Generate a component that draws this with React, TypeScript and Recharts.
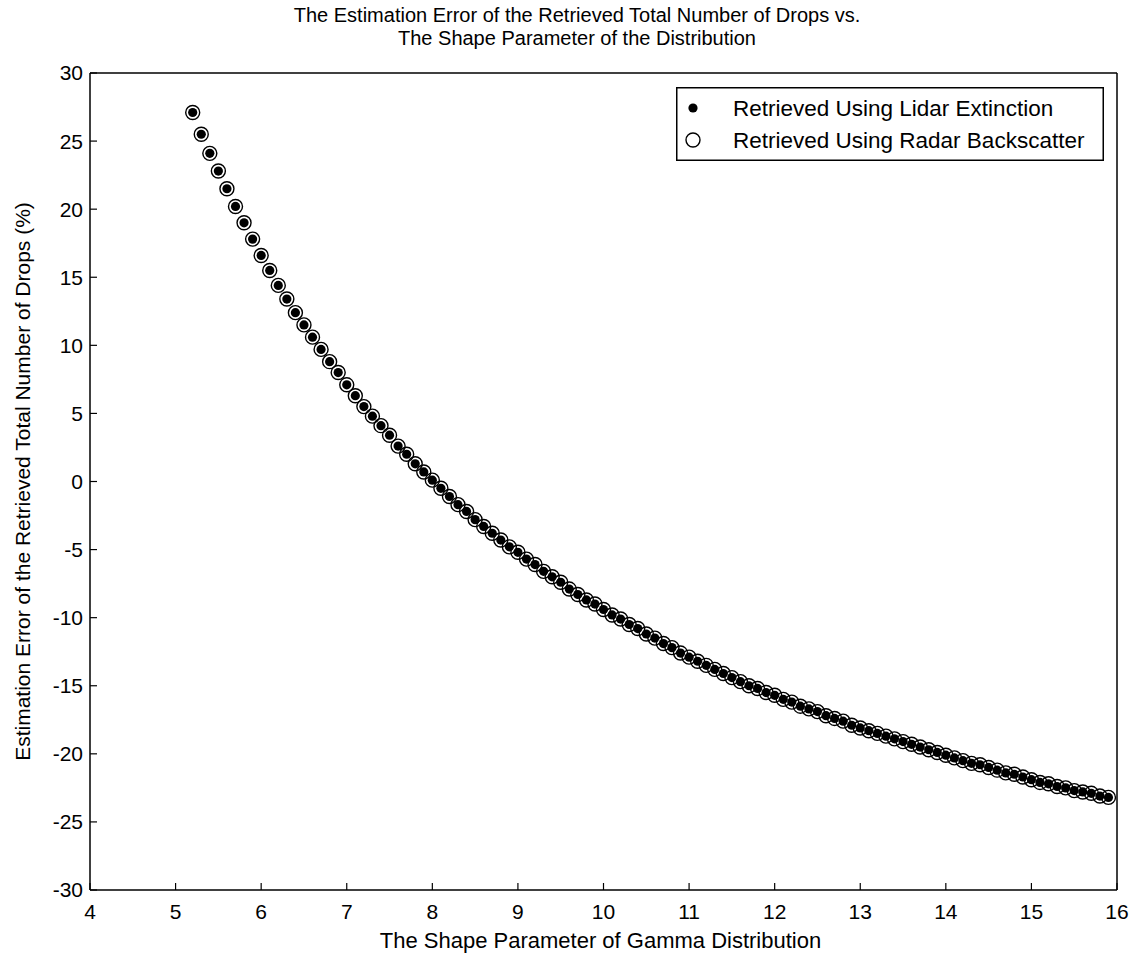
import React from 'react';
import { ScatterChart, Scatter, XAxis, YAxis, Legend } from 'recharts';

const shapeParam = [
  5.2, 5.3, 5.4, 5.5, 5.6, 5.7, 5.8, 5.9, 6.0, 6.1, 6.2, 6.3, 6.4, 6.5, 6.6, 6.7, 6.8, 6.9,
  7.0, 7.1, 7.2, 7.3, 7.4, 7.5, 7.6, 7.7, 7.8, 7.9, 8.0, 8.1, 8.2, 8.3, 8.4, 8.5, 8.6, 8.7,
  8.8, 8.9, 9.0, 9.1, 9.2, 9.3, 9.4, 9.5, 9.6, 9.7, 9.8, 9.9, 10.0, 10.1, 10.2, 10.3, 10.4,
  10.5, 10.6, 10.7, 10.8, 10.9, 11.0, 11.1, 11.2, 11.3, 11.4, 11.5, 11.6, 11.7, 11.8, 11.9,
  12.0, 12.1, 12.2, 12.3, 12.4, 12.5, 12.6, 12.7, 12.8, 12.9, 13.0, 13.1, 13.2, 13.3, 13.4,
  13.5, 13.6, 13.7, 13.8, 13.9, 14.0, 14.1, 14.2, 14.3, 14.4, 14.5, 14.6, 14.7, 14.8, 14.9,
  15.0, 15.1, 15.2, 15.3, 15.4, 15.5, 15.6, 15.7, 15.8, 15.9,
];

const errLidar = [
  27.1, 25.5, 24.1, 22.8, 21.5, 20.2, 19.0, 17.8, 16.6, 15.5, 14.4, 13.4, 12.4, 11.5, 10.6, 9.7, 8.8, 8.0,
  7.1, 6.3, 5.5, 4.8, 4.1, 3.4, 2.6, 2.0, 1.3, 0.7, 0.1, -0.5, -1.1, -1.7, -2.2, -2.8, -3.3, -3.8,
  -4.3, -4.8, -5.2, -5.7, -6.1, -6.6, -7.0, -7.4, -7.9, -8.3, -8.7, -9.0, -9.4, -9.8, -10.1, -10.5, -10.8,
  -11.2, -11.5, -11.9, -12.2, -12.6, -12.9, -13.2, -13.5, -13.8, -14.1, -14.4, -14.7, -15.0, -15.2, -15.5,
  -15.7, -16.0, -16.2, -16.5, -16.7, -16.9, -17.2, -17.4, -17.6, -17.9, -18.1, -18.3, -18.5, -18.7, -18.9,
  -19.1, -19.3, -19.5, -19.7, -19.9, -20.1, -20.3, -20.5, -20.7, -20.8, -21.0, -21.2, -21.4, -21.5, -21.7,
  -21.9, -22.1, -22.2, -22.4, -22.5, -22.7, -22.8, -22.9, -23.1, -23.2,
];

const errRadar = [
  27.1, 25.5, 24.1, 22.8, 21.5, 20.2, 19.0, 17.8, 16.6, 15.5, 14.4, 13.4, 12.4, 11.5, 10.6, 9.7, 8.8, 8.0,
  7.1, 6.3, 5.5, 4.8, 4.1, 3.4, 2.6, 2.0, 1.3, 0.7, 0.1, -0.5, -1.1, -1.7, -2.2, -2.8, -3.3, -3.8,
  -4.3, -4.8, -5.2, -5.7, -6.1, -6.6, -7.0, -7.4, -7.9, -8.3, -8.7, -9.0, -9.4, -9.8, -10.1, -10.5, -10.8,
  -11.2, -11.5, -11.9, -12.2, -12.6, -12.9, -13.2, -13.5, -13.8, -14.1, -14.4, -14.7, -15.0, -15.2, -15.5,
  -15.7, -16.0, -16.2, -16.5, -16.7, -16.9, -17.2, -17.4, -17.6, -17.9, -18.1, -18.3, -18.5, -18.7, -18.9,
  -19.1, -19.3, -19.5, -19.7, -19.9, -20.1, -20.3, -20.5, -20.7, -20.8, -21.0, -21.2, -21.4, -21.5, -21.7,
  -21.9, -22.1, -22.2, -22.4, -22.5, -22.7, -22.8, -22.9, -23.1, -23.2,
];

const xTicks = [4, 5, 6, 7, 8, 9, 10, 11, 12, 13, 14, 15, 16];
const yTicks = [-30, -25, -20, -15, -10, -5, 0, 5, 10, 15, 20, 25, 30];

const seriesNames = ['Retrieved Using Lidar Extinction', 'Retrieved Using Radar Backscatter'];
const titleLines = [
  'The Estimation Error of the Retrieved Total Number of Drops vs.',
  'The Shape Parameter of the Distribution',
];
const xLabel = 'The Shape Parameter of Gamma Distribution';
const yLabel = 'Estimation Error of the Retrieved Total Number of Drops (%)';

const FONT = "'Liberation Sans', Arial, Helvetica, sans-serif";

const lidarData = shapeParam.map((x, i) => ({ x, y: errLidar[i] }));
const radarData = shapeParam.map((x, i) => ({ x, y: errRadar[i] }));

const FilledDot = (props: any) => (
  <circle cx={props.cx} cy={props.cy} r={4.6} fill="#000" />
);
const OpenCircle = (props: any) => (
  <circle cx={props.cx} cy={props.cy} r={7} fill="none" stroke="#000" strokeWidth={1.4} />
);

const LegendBox = () => (
  <svg width={428} height={74} style={{ display: 'block' }}>
    <rect x={0.75} y={0.75} width={426.5} height={72.5} fill="#fff" stroke="#000" strokeWidth={1.5} />
    <circle cx={17} cy={21} r={4.6} fill="#000" />
    <text x={57} y={21} dy="0.35em" fontSize={22.5} fontFamily={FONT} fill="#000">{seriesNames[0]}</text>
    <circle cx={17} cy={53} r={7} fill="none" stroke="#000" strokeWidth={1.4} />
    <text x={57} y={53} dy="0.35em" fontSize={22.5} fontFamily={FONT} fill="#000">{seriesNames[1]}</text>
  </svg>
);

const YLabelContent = (props: any) => {
  const vb = props.viewBox || { x: 0, y: 0, width: 0, height: 0 };
  const cx = 23;
  const cy = vb.y + vb.height / 2;
  return (
    <text x={cx} y={cy} transform={`rotate(-90, ${cx}, ${cy})`} textAnchor="middle" dy="0.35em"
      fontSize={21} fontFamily={FONT} fill="#000">{yLabel}</text>
  );
};

const XLabelContent = (props: any) => {
  const vb = props.viewBox || { x: 0, y: 0, width: 0, height: 0 };
  const cx = vb.x + vb.width / 2 - 3;
  return (
    <text x={cx} y={948} textAnchor="middle" fontSize={22} fontFamily={FONT} fill="#000">{xLabel}</text>
  );
};

const tickStyle = { fill: '#000', fontSize: 21, fontFamily: FONT };
const axisLine = { stroke: '#000', strokeWidth: 1.5 };
const tickLine = { stroke: '#000', strokeWidth: 1.2 };

export default function App() {
  return (
    <div style={{ position: 'absolute', left: 0, top: 0, width: 1133, height: 956, background: '#fff' }}>
      <div style={{ position: 'absolute', left: 0, top: 4, width: 1154, textAlign: 'center', fontFamily: FONT, fontSize: 20, lineHeight: '23px', color: '#000' }}>
        <div>{titleLines[0]}</div>
        <div>{titleLines[1]}</div>
      </div>
      <ScatterChart width={1133} height={956} margin={{ top: 72, right: 15, bottom: 65, left: 89 }}>
        <XAxis xAxisId="b" type="number" dataKey="x" domain={[4, 16]} ticks={xTicks} orientation="bottom"
          height={1} tickSize={-7} tickMargin={21} tick={tickStyle} axisLine={axisLine} tickLine={tickLine}
          allowDataOverflow interval={0} label={<XLabelContent />} />
        <XAxis xAxisId="t" type="number" dataKey="x" domain={[4, 16]} ticks={xTicks} orientation="top"
          height={1} tickSize={-7} tick={false} axisLine={axisLine} tickLine={tickLine} allowDataOverflow interval={0} />
        <YAxis yAxisId="l" type="number" dataKey="y" domain={[-30, 30]} ticks={yTicks} orientation="left"
          width={1} tickSize={-7} tickMargin={14} tick={tickStyle} axisLine={axisLine} tickLine={tickLine}
          allowDataOverflow interval={0} label={<YLabelContent />} />
        <YAxis yAxisId="r" type="number" dataKey="y" domain={[-30, 30]} ticks={yTicks} orientation="right"
          width={1} tickSize={-7} tick={false} axisLine={axisLine} tickLine={tickLine} allowDataOverflow interval={0} />
        <Scatter name={seriesNames[0]} data={lidarData} xAxisId="b" yAxisId="l" shape={FilledDot} isAnimationActive={false} fill="#000" />
        <Scatter name={seriesNames[1]} data={radarData} xAxisId="b" yAxisId="l" shape={OpenCircle} isAnimationActive={false} fill="none" />
        <Legend layout="vertical" align="center" verticalAlign="middle" content={<LegendBox />}
          wrapperStyle={{ position: 'absolute', left: 676, top: 87, width: 428, height: 74 }} />
      </ScatterChart>
    </div>
  );
}
